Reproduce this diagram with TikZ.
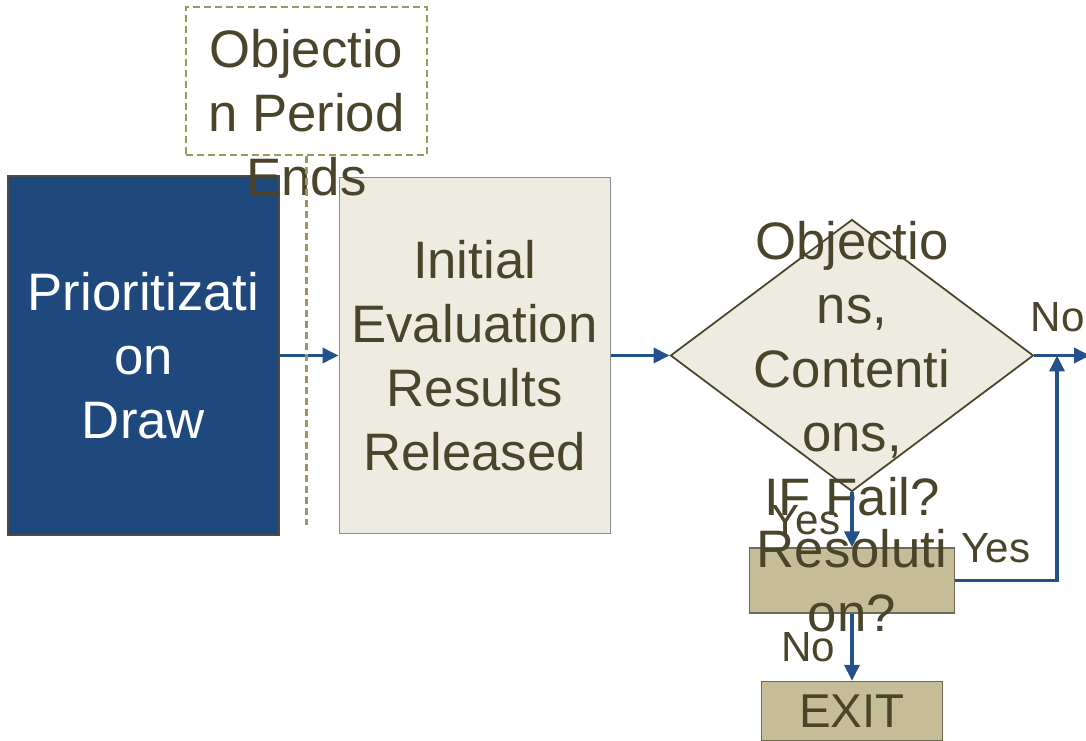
\documentclass[tikz,border=0pt]{standalone}
\usepackage{fontspec}
\setmainfont{Liberation Sans}
\usepackage{xcolor}
\usetikzlibrary{shapes.geometric, arrows.meta, positioning}

\definecolor{drawblue}{HTML}{1F497D}
\definecolor{paper}{HTML}{EEECE1}
\definecolor{khaki}{HTML}{C4BD97}
\definecolor{ink}{HTML}{4A452A}
\definecolor{dashline}{HTML}{A0975F}
\definecolor{flowblue}{HTML}{24508C}

\begin{document}
\begin{tikzpicture}[
			node distance=1.18cm,
			every node/.style={align=center, text=ink, font=\fontsize{30}{36.5}\selectfont},
			box/.style={rectangle, draw=black!45, line width=0.6pt, minimum width=5.42cm},
			decision/.style={diamond, draw=ink, fill=paper, line width=1pt, minimum width=7.26cm, minimum height=5.44cm, inner sep=0pt},
			minor/.style={rectangle, draw=ink!80, fill=khaki, line width=0.8pt, inner sep=0pt},
			lbl/.style={inner sep=0pt, font=\fontsize{24}{28}\selectfont},
			arrow/.style={-{Triangle[length=0.32cm, width=0.3cm]}, draw=flowblue, line width=2pt}
			]
			\useasboundingbox (0,0) rectangle (21.72,-14.82);
			
			% Nodes
			\node (draw) [box, fill=drawblue, draw=black!70, text=white, minimum height=7.18cm] at (2.87,-7.11) {Prioritizati\\on\\Draw};
			\node (eval) [box, fill=paper, minimum height=7.12cm, right=of draw] {Initial\\Evaluation\\Results\\Released};
			\node (check) [decision, right=of eval, label={[yshift=-0.26cm]center:{Objectio\\ns,\\Contenti\\ons,\\IF Fail?}}] {};
			\node (settle) [minor, minimum width=4.1cm, minimum height=1.3cm, below=1.1cm of check, label={center:{Resoluti\\on?}}] {};
			\node (exit) [minor, minimum width=3.62cm, minimum height=1.18cm, below=1.34cm of settle, font=\fontsize{27}{32}\selectfont] {EXIT};
			\coordinate (off) at (check.east -| 21.8,0);
			\coordinate (join) at (check.east -| 21.14,0);
			
			% Connections
			\draw [arrow] (draw) -- (eval);
			\draw [arrow] (eval) -- (check);
			\draw [arrow] (check.east) -- node[lbl, pos=0.42, above=0.44cm] {No} (off);
			\draw [arrow] (check.south) -- node[lbl, left=0.2cm] {Yes} (settle.north);
			\draw [arrow] (settle.east) -| node[lbl, pos=0.2, above=0.32cm] {Yes} (join);
			\draw [arrow] (settle.south) -- node[lbl, left=0.3cm] {No} (exit.north);
			
			% Objection period marker
			\node (ends) [rectangle, draw=dashline, line width=1.2pt, dash pattern=on 0.14cm off 0.08cm, minimum width=4.82cm, minimum height=2.96cm, label={[yshift=-0.64cm]center:{Objectio\\n Period\\Ends}}] at (6.13,-1.62) {};
			\coordinate (foot) at (ends.south |- 0,-10.5);
			\draw [draw=dashline, line width=1.6pt, dash pattern=on 0.14cm off 0.08cm] (ends.south) -- (foot);
			
		\end{tikzpicture}
\end{document}
